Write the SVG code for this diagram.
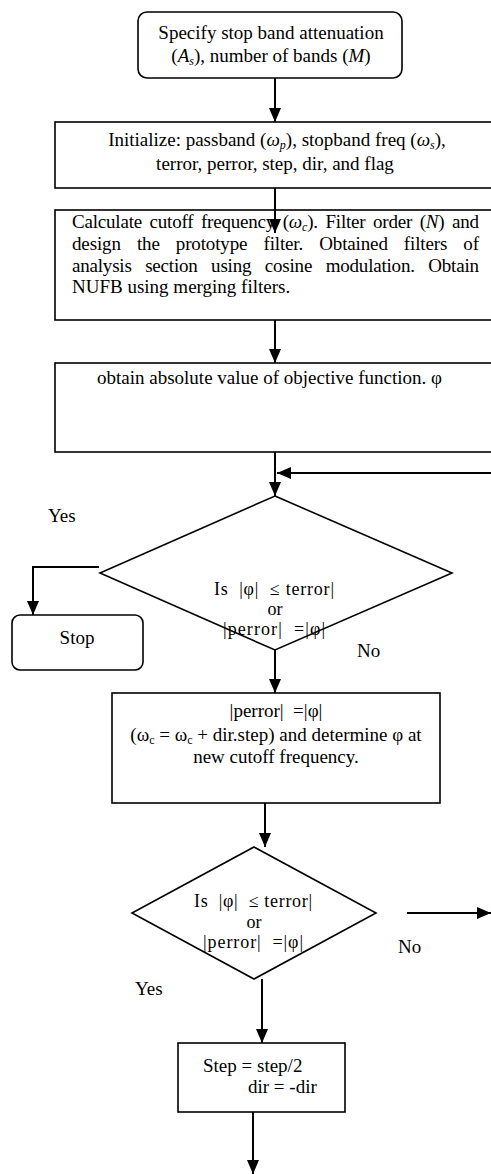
<svg xmlns="http://www.w3.org/2000/svg" width="491" height="1174" viewBox="0 0 491 1174">
<defs>
<marker id="ah" viewBox="0 0 14 12" refX="14" refY="6" markerWidth="14" markerHeight="12" markerUnits="userSpaceOnUse" orient="auto"><path d="M0,0 L14,6 L0,12 z" fill="#000"/></marker>
<style>
.box{fill:#fff;stroke:#000;stroke-width:1.6}
.t{font-family:"Liberation Serif","Times New Roman",serif;fill:#000;font-size:19px}
.m{text-anchor:middle}
.i{font-style:italic}
.d{font-size:18px}
.c{stroke:#000;stroke-width:2;fill:none}
</style>
</defs>
<rect width="491" height="1174" fill="#fff"/>

<g id="start">
<rect class="box" x="138" y="12" width="264" height="66" rx="9"/>
<text class="t m" x="271" y="39" font-size="18">Specify stop band attenuation</text>
<text class="t m" x="271" y="62" font-size="18">(<tspan class="i">A</tspan><tspan class="i" font-size="12" dy="3">s</tspan><tspan dy="-3">), number of bands (</tspan><tspan class="i">M</tspan>)</text>
</g>

<g id="init">
<rect class="box" x="55" y="122" width="450" height="66"/>
<text class="t m" x="277" y="146">Initialize: passband (<tspan class="i">ω</tspan><tspan class="i" font-size="12" dy="3">p</tspan><tspan dy="-3">), stopband freq (</tspan><tspan class="i">ω</tspan><tspan class="i" font-size="12" dy="3">s</tspan><tspan dy="-3">),</tspan></text>
<text class="t m" x="275" y="170">terror, perror, step, dir, and flag</text>
</g>

<g id="calc">
<rect class="box" x="55" y="210" width="450" height="110"/>
<text class="t" x="72" y="228" font-size="18.5" word-spacing="3" textLength="407" lengthAdjust="spacing">Calculate cutoff frequency (<tspan class="i">ω</tspan><tspan class="i" font-size="12" dy="3">c</tspan><tspan dy="-3">). Filter order (</tspan><tspan class="i">N</tspan>) and</text>
<text class="t" x="72" y="250" font-size="18.5" word-spacing="11.5" textLength="407" lengthAdjust="spacing">design the prototype filter. Obtained filters of</text>
<text class="t" x="72" y="272" font-size="18.5" word-spacing="9" textLength="407" lengthAdjust="spacing">analysis section using cosine modulation. Obtain</text>
<text class="t" x="72" y="293" font-size="18.5">NUFB using merging filters.</text>
</g>

<g id="objective">
<rect class="box" x="55" y="363" width="450" height="89"/>
<text class="t" x="97" y="384" font-size="15">obtain absolute value of objective function. φ</text>
</g>

<g id="decision1">
<polygon class="box" points="275,496 452,573 275,650 100,573"/>
<text class="t m d" x="274" y="595" xml:space="preserve" textLength="120" lengthAdjust="spacing">Is  |φ|  ≤ terror|</text>
<text class="t m d" x="275" y="615">or</text>
<text class="t m d" x="274" y="635" xml:space="preserve" textLength="102" lengthAdjust="spacing">|perror|  =|φ|</text>
</g>

<g id="stop">
<rect class="box" x="12" y="615" width="131" height="55" rx="8"/>
<text class="t m" x="77" y="644">Stop</text>
</g>

<g id="update">
<rect class="box" x="112" y="693" width="328" height="110"/>
<text class="t m" x="276" y="717" xml:space="preserve">|perror|  =|φ|</text>
<text class="t m" x="276" y="741">(ω<tspan font-size="12" dy="3">c</tspan><tspan dy="-3"> = ω</tspan><tspan font-size="12" dy="3">c</tspan><tspan dy="-3"> + dir.step) and determine φ at</tspan></text>
<text class="t m" x="276" y="763">new cutoff frequency.</text>
</g>

<g id="decision2">
<polygon class="box" points="254,847 376,913 254,979 132,913"/>
<text class="t m d" x="253" y="907" xml:space="preserve" textLength="118" lengthAdjust="spacing">Is  |φ|  ≤ terror|</text>
<text class="t m d" x="254" y="928">or</text>
<text class="t m d" x="253" y="948" xml:space="preserve" textLength="100" lengthAdjust="spacing">|perror|  =|φ|</text>
</g>

<g id="halve">
<rect class="box" x="178" y="1043" width="167" height="69"/>
<text class="t" x="203" y="1072">Step = step/2</text>
<text class="t" x="248" y="1093">dir = -dir</text>
</g>

<g id="labels">
<text class="t" x="48" y="522" font-size="18">Yes</text>
<text class="t" x="357" y="657" font-size="20">No</text>
<text class="t" x="398" y="953" font-size="19.5">No</text>
<text class="t" x="135" y="995" font-size="17.5">Yes</text>
</g>

<g id="connectors">
<line class="c" x1="275" y1="78" x2="275" y2="122" marker-end="url(#ah)"/>
<line class="c" x1="275" y1="188" x2="275" y2="233" marker-end="url(#ah)"/>
<line class="c" x1="275" y1="320" x2="275" y2="363" marker-end="url(#ah)"/>
<line class="c" x1="275" y1="452" x2="275" y2="496" marker-end="url(#ah)"/>
<line class="c" x1="491" y1="473" x2="277" y2="473" marker-end="url(#ah)"/>
<polyline class="c" points="99,567 33,567 33,615" marker-end="url(#ah)"/>
<line class="c" x1="275" y1="650" x2="275" y2="693" marker-end="url(#ah)"/>
<line class="c" x1="265" y1="803" x2="265" y2="847" marker-end="url(#ah)"/>
<line class="c" x1="407" y1="913" x2="491" y2="913" marker-end="url(#ah)"/>
<line class="c" x1="262" y1="979" x2="262" y2="1043" marker-end="url(#ah)"/>
<line class="c" x1="253" y1="1112" x2="253" y2="1174" marker-end="url(#ah)"/>
</g>
</svg>
